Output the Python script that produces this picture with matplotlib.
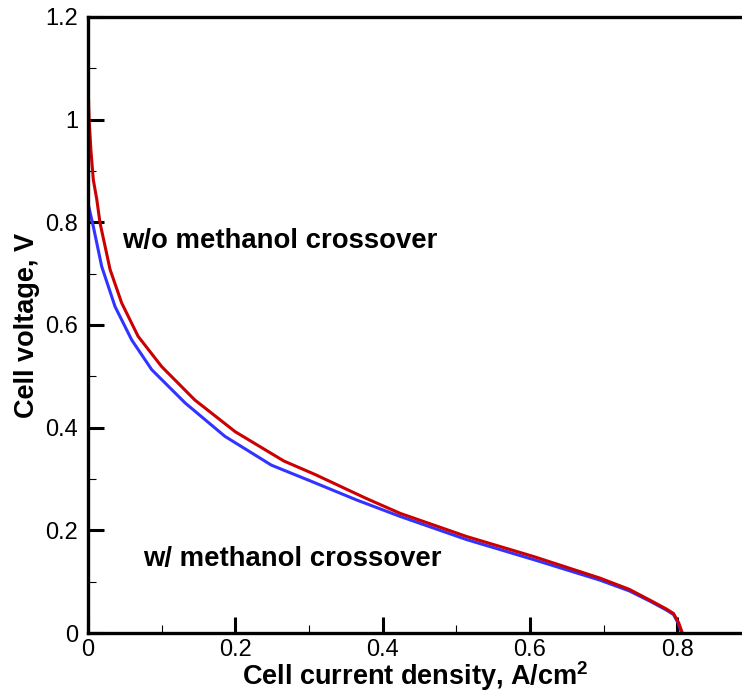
import numpy as np
import matplotlib
matplotlib.use('Agg')
import matplotlib.pyplot as plt
from matplotlib.ticker import MultipleLocator, FuncFormatter

plt.rcParams['font.family'] = ['Liberation Sans', 'DejaVu Sans']
plt.rcParams['mathtext.fontset'] = 'custom'
plt.rcParams['mathtext.rm'] = 'Liberation Sans'
plt.rcParams['mathtext.bf'] = 'Liberation Sans:bold'

# Polarisation curves (current density A/cm^2, voltage V)
i_without = [0.0, 0.0005, 0.0015, 0.004, 0.0072, 0.012, 0.0163, 0.030, 0.0457,
             0.068, 0.100, 0.145, 0.200, 0.266, 0.308, 0.378, 0.424, 0.514,
             0.605, 0.695, 0.735, 0.763, 0.785, 0.795, 0.802, 0.807]
v_without = [1.123, 1.05, 1.0, 0.94, 0.883, 0.844, 0.799, 0.708, 0.643,
             0.578, 0.519, 0.454, 0.392, 0.335, 0.309, 0.262, 0.233, 0.188,
             0.149, 0.107, 0.085, 0.064, 0.047, 0.038, 0.020, 0.0]

i_with = [0.0, 0.0005, 0.0072, 0.0186, 0.0367, 0.0593, 0.0865, 0.132, 0.186,
          0.249, 0.304, 0.365, 0.424, 0.514, 0.605, 0.695, 0.735, 0.763,
          0.785, 0.795, 0.801, 0.806]
v_with = [0.84, 0.834, 0.792, 0.714, 0.636, 0.571, 0.513, 0.448, 0.383,
          0.327, 0.295, 0.259, 0.227, 0.182, 0.143, 0.103, 0.082, 0.062,
          0.045, 0.036, 0.020, 0.0]

fig = plt.figure(figsize=(7.42, 6.96), dpi=100)
ax = fig.add_axes([88 / 742, 63 / 696, 654 / 742, 616 / 696])

ax.plot(i_with, v_with, color='#3333ff', linewidth=2.2)
ax.plot(i_without, v_without, color='#cc0000', linewidth=2.2)

ax.set_xlim(0, 0.888)
ax.set_ylim(0, 1.2)
ax.xaxis.set_major_locator(MultipleLocator(0.2))
ax.xaxis.set_minor_locator(MultipleLocator(0.1))
ax.yaxis.set_major_locator(MultipleLocator(0.2))
ax.yaxis.set_minor_locator(MultipleLocator(0.1))
fmt = FuncFormatter(lambda v, p: '%g' % round(v, 2))
ax.xaxis.set_major_formatter(fmt)
ax.yaxis.set_major_formatter(fmt)

ax.tick_params(which='major', direction='in', length=11.5, width=2.2,
               labelsize=17, pad=4)
ax.tick_params(which='minor', direction='in', length=5.5, width=0.8)
ax.tick_params(axis='y', which='major', pad=7)
ax.tick_params(top=False, right=False, which='both')

for side in ['left', 'bottom', 'top']:
    ax.spines[side].set_linewidth(2.4)
ax.spines['right'].set_visible(False)

ax.set_xlabel('Cell current density, A/cm$^\\mathbf{2}$', fontsize=19.5,
              fontweight='bold', labelpad=-1)
ax.set_ylabel('Cell voltage, V', fontsize=19.5, fontweight='bold', labelpad=4)

ax.text(0.046, 0.763, 'w/o methanol crossover', fontsize=19.8, fontweight='bold',
        va='center', ha='left')
ax.text(0.075, 0.144, 'w/ methanol crossover', fontsize=19.8, fontweight='bold',
        va='center', ha='left')

fig.savefig('out.png', dpi=100)
